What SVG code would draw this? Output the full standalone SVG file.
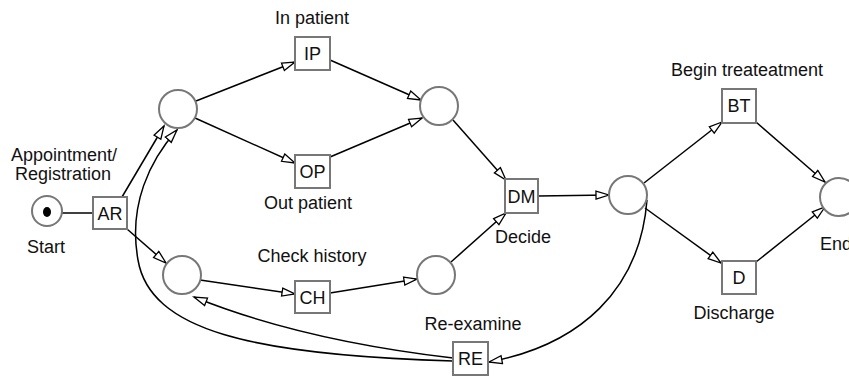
<svg xmlns="http://www.w3.org/2000/svg" width="849" height="376" viewBox="0 0 849 376">
  <style>
    .place { fill: #fff; stroke: #777; stroke-width: 2; }
    .trans { fill: #fff; stroke: #777; stroke-width: 2; }
    .arc { fill: none; stroke: #000; stroke-width: 1.5; }
    .lbl { font-family: "Liberation Sans", Arial, sans-serif; font-size: 18px; fill: #111; }
    .mid { text-anchor: middle; }
  </style>
  <defs>
    <marker id="arrow" markerUnits="userSpaceOnUse" markerWidth="16" markerHeight="12" refX="14" refY="5" orient="auto">
      <path d="M1,1 L14,5 L1,9 Z" fill="#fff" stroke="#000" stroke-width="1.3"/>
    </marker>
  </defs>
  <rect width="849" height="376" fill="#fff"/>

  <!-- connectors -->
  <g id="connectors">
    <line class="arc" x1="62" y1="213" x2="93" y2="213"/>
    <line class="arc" x1="122" y1="197" x2="164" y2="126" marker-end="url(#arrow)"/>
    <line class="arc" x1="127" y1="229" x2="166" y2="263" marker-end="url(#arrow)"/>
    <line class="arc" x1="196" y1="101" x2="295" y2="62" marker-end="url(#arrow)"/>
    <line class="arc" x1="195" y1="118" x2="295" y2="163" marker-end="url(#arrow)"/>
    <line class="arc" x1="330" y1="60" x2="421" y2="100" marker-end="url(#arrow)"/>
    <line class="arc" x1="330" y1="157" x2="422" y2="118" marker-end="url(#arrow)"/>
    <line class="arc" x1="453" y1="120" x2="506" y2="180" marker-end="url(#arrow)"/>
    <line class="arc" x1="200" y1="280" x2="295" y2="294" marker-end="url(#arrow)"/>
    <line class="arc" x1="330" y1="293" x2="417" y2="279" marker-end="url(#arrow)"/>
    <line class="arc" x1="451" y1="262" x2="506" y2="213" marker-end="url(#arrow)"/>
    <line class="arc" x1="538" y1="196" x2="609" y2="195" marker-end="url(#arrow)"/>
    <line class="arc" x1="644" y1="183" x2="722" y2="122" marker-end="url(#arrow)"/>
    <line class="arc" x1="645" y1="208" x2="721" y2="263" marker-end="url(#arrow)"/>
    <line class="arc" x1="756" y1="122" x2="825" y2="182" marker-end="url(#arrow)"/>
    <line class="arc" x1="756" y1="262" x2="825" y2="207" marker-end="url(#arrow)"/>
    <path class="arc" d="M647,200 C640,290 580,345 489,362" marker-end="url(#arrow)"/>
    <path class="arc" d="M453,358 Q300,340 194,297" marker-end="url(#arrow)"/>
    <path class="arc" d="M453,361 C250,355 150,330 138,260 C128,205 150,160 177,130" marker-end="url(#arrow)"/>
  </g>

  <!-- start place -->
  <g id="start">
    <circle class="place" cx="47" cy="211" r="15"/>
    <ellipse cx="47" cy="212" rx="4" ry="5" fill="#000"/>
    <text class="lbl mid" x="46" y="253">Start</text>
  </g>

  <g id="ar">
    <rect class="trans" x="93" y="197" width="34" height="32"/>
    <text class="lbl mid" x="110" y="220">AR</text>
    <text class="lbl mid" x="64" y="161">Appointment/</text>
    <text class="lbl mid" x="63" y="180">Registration</text>
  </g>

  <g id="p1"><circle class="place" cx="178" cy="109" r="19"/></g>
  <g id="p2"><circle class="place" cx="182" cy="275" r="19"/></g>
  <g id="p3"><circle class="place" cx="439" cy="106" r="19"/></g>
  <g id="p4"><circle class="place" cx="436" cy="275" r="19"/></g>
  <g id="p5"><circle class="place" cx="628" cy="195" r="19"/></g>

  <g id="end">
    <circle class="place" cx="839" cy="197" r="19"/>
    <text class="lbl" x="820" y="250">End</text>
  </g>

  <g id="ip">
    <rect class="trans" x="295" y="37" width="35" height="33"/>
    <text class="lbl mid" x="312.5" y="60">IP</text>
    <text class="lbl mid" x="312" y="24">In patient</text>
  </g>

  <g id="op">
    <rect class="trans" x="295" y="155" width="35" height="33"/>
    <text class="lbl mid" x="312.5" y="178">OP</text>
    <text class="lbl mid" x="308" y="209">Out patient</text>
  </g>

  <g id="ch">
    <rect class="trans" x="295" y="281" width="35" height="32"/>
    <text class="lbl mid" x="312.5" y="304">CH</text>
    <text class="lbl mid" x="312" y="262">Check history</text>
  </g>

  <g id="dm">
    <rect class="trans" x="505" y="179" width="33" height="34"/>
    <text class="lbl mid" x="521.5" y="203">DM</text>
    <text class="lbl" x="495" y="243">Decide</text>
  </g>

  <g id="re">
    <rect class="trans" x="453" y="342" width="35" height="33"/>
    <text class="lbl mid" x="470.5" y="365">RE</text>
    <text class="lbl mid" x="473" y="330">Re-examine</text>
  </g>

  <g id="bt">
    <rect class="trans" x="722" y="89" width="34" height="34"/>
    <text class="lbl mid" x="739" y="112">BT</text>
    <text class="lbl mid" x="747" y="76">Begin treateatment</text>
  </g>

  <g id="d">
    <rect class="trans" x="722" y="261" width="34" height="33"/>
    <text class="lbl mid" x="739" y="284">D</text>
    <text class="lbl mid" x="734" y="319">Discharge</text>
  </g>
</svg>
